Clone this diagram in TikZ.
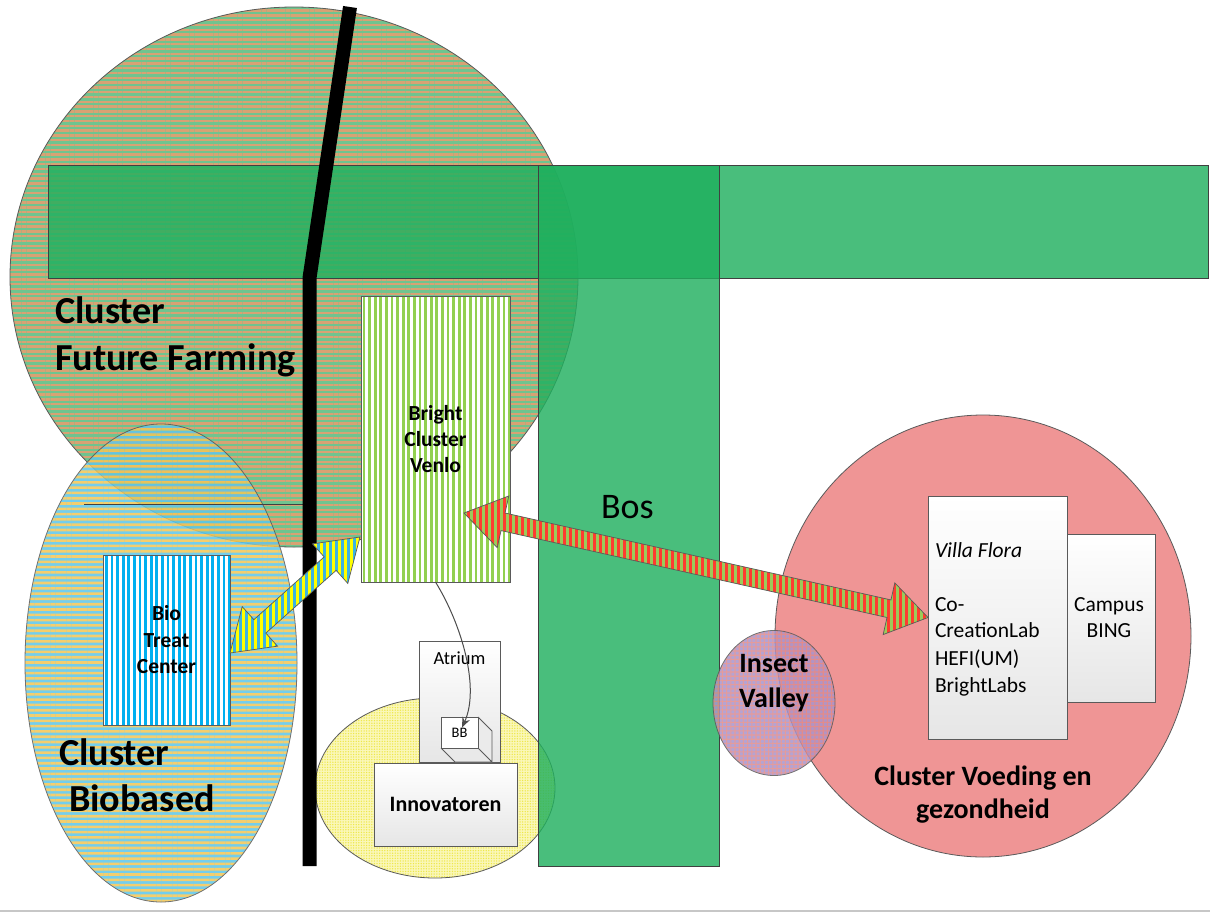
\documentclass[tikz,border=0pt]{standalone}
\usepackage{fontspec}
\setmainfont{Carlito}
\usetikzlibrary{calc,patterns.meta,arrows.meta,shapes.geometric}

\definecolor{ffgreen}{HTML}{6FC48F}
\definecolor{fftan}{HTML}{D8A273}
\definecolor{bbblue}{HTML}{5EC7EA}
\definecolor{bbyellow}{HTML}{F3C655}
\definecolor{bandgreen}{RGB}{31,176,94}
\definecolor{brightgreen}{HTML}{92D050}
\definecolor{btblue}{HTML}{00B0F0}
\definecolor{pinkc}{HTML}{EF9595}
\definecolor{ivpurple}{HTML}{A994CC}
\definecolor{ivgrid}{HTML}{E08A8A}
\definecolor{innoyellow}{HTML}{FAF7B8}
\definecolor{innodot}{HTML}{EEE84A}
\definecolor{outl}{HTML}{5A5A5A}
\definecolor{arrred}{HTML}{FF3B30}
\definecolor{arrgreen}{HTML}{9BCB5A}
\definecolor{arryellow}{HTML}{FFFF00}
\definecolor{arrblue}{HTML}{3DB4E0}
\definecolor{boxgrey}{HTML}{E6E6E6}

\newcommand\widearrow[3]{%
  \path[#3] (#1)
    -- ($(#1)!40pt!(#2)!26.5pt!90:(#2)$)
    -- ($(#1)!40pt!(#2)!9pt!90:(#2)$)
    -- ($(#2)!40pt!(#1)!9pt!-90:(#1)$)
    -- ($(#2)!40pt!(#1)!26.5pt!-90:(#1)$)
    -- (#2)
    -- ($(#2)!40pt!(#1)!26.5pt!90:(#1)$)
    -- ($(#2)!40pt!(#1)!9pt!90:(#1)$)
    -- ($(#1)!40pt!(#2)!9pt!-90:(#2)$)
    -- ($(#1)!40pt!(#2)!26.5pt!-90:(#2)$)
    -- cycle;}

\tikzset{
  oval/.style={ellipse, draw=outl, line width=0.8pt, inner sep=0pt, outer sep=0pt},
  box/.style={rectangle, draw=outl, line width=0.8pt, inner sep=0pt, outer sep=0pt, anchor=north west},
  greybox/.style={box, top color=white, bottom color=boxgrey},
  band/.style={box, draw=black!75, fill=bandgreen, fill opacity=0.81},
  lbl/.style={inner sep=0pt, outer sep=0pt, text=black},
  hstripes/.style 2 args={preaction={fill=#1}, pattern={Lines[angle=0,distance=4.8pt,line width=2.4pt]}, pattern color=#2},
  vstripes/.style 2 args={preaction={fill=#1}, pattern={Lines[angle=90,distance=5.6pt,line width=2.8pt]}, pattern color=#2},
  fatarrow/.style 2 args={draw=outl, line width=0.7pt, preaction={fill=#1}, pattern={Lines[angle=90,distance=6pt,line width=3pt]}, pattern color=#2},
}

\begin{document}
\begin{tikzpicture}[x=1pt,y=-1pt]
\useasboundingbox (0,0) rectangle (1210,913);
\fill[white] (0,0) rectangle (1210,913);

% Cluster Future Farming
\node[oval, minimum width=568pt, minimum height=540pt, hstripes={ffgreen}{fftan}] (ff) at (294,277) {};

% Cluster Biobased
\begin{scope}[transparency group, opacity=0.86]
\node[oval, minimum width=272pt, minimum height=478pt, preaction={fill=bbblue}, pattern={Lines[angle=0,distance=5.3pt,line width=2.6pt]}, pattern color=bbyellow] (bio) at (161,663) {};
\end{scope}
\coordinate (hl1) at (84,504);
\coordinate (hl2) at (303,504);
\draw[black!75, line width=0.8pt] (hl1) -- (hl2);

% Bio Treat Center
\node[box, minimum width=127pt, minimum height=170pt, vstripes={white}{btblue}] (biotreat) at (103,555) {};

% Innovatoren area
\node[oval, minimum width=240pt, minimum height=180pt, preaction={fill=innoyellow}, pattern={Dots[distance=2.6pt,radius=0.75pt]}, pattern color=innodot] (innov) at (435,788) {};
\node[greybox, minimum width=81pt, minimum height=121pt] (atrium) at (419,641) {};
% BB cube
\coordinate (bbA) at (441,717);
\coordinate (bbB) at (478,717);
\coordinate (bbC) at (478,748);
\coordinate (bbD) at (441,748);
\fill[boxgrey!80] (bbB) -- (492,731) -- (492,762) -- (bbC) -- cycle;
\fill[boxgrey!90] (bbD) -- (bbC) -- (492,762) -- (455,762) -- cycle;
\draw[outl, line width=0.8pt] (bbB) -- (492,731) -- (492,762) -- (455,762) -- (bbD) (bbC) -- (492,762);
\node[box, fill=white, minimum width=37pt, minimum height=31pt] (bb) at (bbA) {};
\node[greybox, minimum width=143pt, minimum height=83pt] (innobox) at (374,763) {};

% Green bands
\node[band, minimum width=1160pt, minimum height=113pt] (hband) at (48,165) {};
\node[band, minimum width=181pt, minimum height=701pt] (bos) at (538,165) {};

% Cluster Voeding en gezondheid
\node[oval, minimum width=416pt, minimum height=442pt, fill=pinkc] (voeding) at (983,636) {};
\node[greybox, minimum width=115pt, minimum height=168pt] (campus) at (1040,534) {};
\node[greybox, minimum width=139pt, minimum height=243pt] (villa) at (928,496) {};

% Insect Valley
\begin{scope}[transparency group, opacity=0.85]
\node[oval, minimum width=122pt, minimum height=145pt, preaction={fill=ivpurple}, pattern={Hatch[angle=0,distance=4.2pt,line width=1.1pt]}, pattern color=ivgrid] (insect) at (774,703) {};
\end{scope}

% Black road
\coordinate (r1) at (350,7);
\coordinate (r2) at (309.5,278);
\coordinate (r3) at (309.5,866);
\draw[black, line width=14pt, line join=miter, line cap=butt] (r1) -- (r2) -- (r3);

% Bright Cluster Venlo
\node[box, minimum width=149pt, minimum height=286pt, vstripes={white}{brightgreen}] (bright) at (361,296) {};

% Wide double arrows
\coordinate (ya) at ($(biotreat.east)+(0,13)$);
\coordinate (yb) at ($(bright.west)+(-1,98)$);
\widearrow{ya}{yb}{fatarrow={arryellow}{arrblue}}
\coordinate (ra) at ($(bright.center)+(28.5,74)$);
\coordinate (rb) at (villa.west);
\widearrow{ra}{rb}{fatarrow={arrgreen}{arrred}}

% Thin curved arrow
\draw[black!70, line width=1pt, -{Stealth[length=10pt,width=8pt]}] (bright.south) .. controls (462,625) and (480,688) .. ($(bb.center)+(2.5,-5)$);

% Texts
\node[lbl, anchor=base west, font=\fontsize{38.2}{42}\selectfont\bfseries] (t1) at (55,323) {Cluster};
\node[lbl, anchor=base west, font=\fontsize{38.2}{42}\selectfont\bfseries] (t2) at (55,370) {Future Farming};
\node[lbl, anchor=base west, font=\fontsize{38.2}{42}\selectfont\bfseries] (t3) at (59,765) {Cluster};
\node[lbl, anchor=base west, font=\fontsize{38.2}{42}\selectfont\bfseries] (t4) at (69,811) {Biobased};
\node[lbl, anchor=base, font=\fontsize{21.5}{24}\selectfont\bfseries] (t5) at (435.5,420) {Bright};
\node[lbl, anchor=base, font=\fontsize{21.5}{24}\selectfont\bfseries] (t6) at (435.5,446) {Cluster};
\node[lbl, anchor=base, font=\fontsize{21.5}{24}\selectfont\bfseries] (t7) at (435.5,472) {Venlo};
\node[lbl, anchor=base, font=\fontsize{21.5}{24}\selectfont\bfseries] (t8) at (166.5,620) {Bio};
\node[lbl, anchor=base, font=\fontsize{21.5}{24}\selectfont\bfseries] (t9) at (166.5,647) {Treat};
\node[lbl, anchor=base, font=\fontsize{21.5}{24}\selectfont\bfseries] (t10) at (166.5,673) {Center};
\node[lbl, anchor=base west, font=\fontsize{36}{40}\selectfont] (t11) at (601,518) {Bos};
\node[lbl, anchor=base, font=\fontsize{18.5}{22}\selectfont] (t12) at (459.5,664) {Atrium};
\node[lbl, anchor=base, font=\fontsize{14.5}{17}\selectfont] (t13) at (459.5,737) {BB};
\node[lbl, anchor=base, font=\fontsize{22}{26}\selectfont\bfseries] (t14) at (445.5,811) {Innovatoren};
\node[lbl, anchor=base west, font=\fontsize{21.5}{26}\selectfont\itshape] (t15) at (935,557) {Villa Flora};
\node[lbl, anchor=base west, font=\fontsize{21.5}{26}\selectfont] (t16) at (935,611) {Co-};
\node[lbl, anchor=base west, font=\fontsize{21.5}{26}\selectfont] (t17) at (935,637) {CreationLab};
\node[lbl, anchor=base west, font=\fontsize{21.5}{26}\selectfont] (t18) at (935,665) {HEFI(UM)};
\node[lbl, anchor=base west, font=\fontsize{21.5}{26}\selectfont] (t19) at (935,692) {BrightLabs};
\node[lbl, anchor=base, font=\fontsize{21.5}{26}\selectfont] (t20) at (1109,611) {Campus};
\node[lbl, anchor=base, font=\fontsize{21.5}{26}\selectfont] (t21) at (1109,637) {BING};
\node[lbl, anchor=base, font=\fontsize{28}{32}\selectfont\bfseries] (t22) at (983,785) {Cluster Voeding en};
\node[lbl, anchor=base, font=\fontsize{28}{32}\selectfont\bfseries] (t23) at (983,818) {gezondheid};
\node[lbl, anchor=base, font=\fontsize{28}{32}\selectfont\bfseries] (t24) at (774,672) {Insect};
\node[lbl, anchor=base, font=\fontsize{28}{32}\selectfont\bfseries] (t25) at (774,707) {Valley};

% bottom rule
\coordinate (bl1) at (0,910.5);
\coordinate (bl2) at (1210,910.5);
\draw[black!22, line width=2pt] (bl1) -- (bl2);
\end{tikzpicture}
\end{document}
